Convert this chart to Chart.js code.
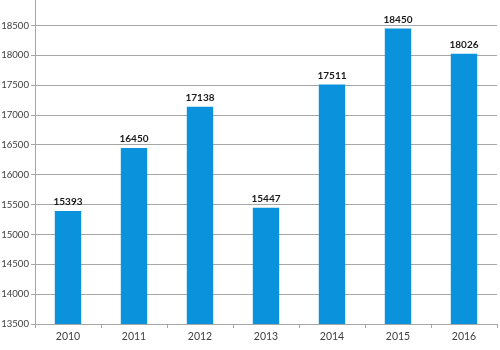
<!DOCTYPE html>
<html>
<head>
<meta charset="utf-8">
<script src="https://cdn.jsdelivr.net/npm/chart.js@4/dist/chart.umd.min.js"></script>
<style>
  html, body { margin:0; padding:0; background:#fff; }
  #wrap { width:500px; height:350px; }
</style>
</head>
<body>
<div id="wrap"><canvas id="c" width="500" height="350"></canvas></div>
<script>
// ================= DATA =================
const years  = ["2010","2011","2012","2013","2014","2015","2016"];
const values = [15393, 16450, 17138, 15447, 17511, 18450, 18026];
const yTicks = [13500, 14000, 14500, 15000, 15500, 16000, 16500, 17000, 17500, 18000, 18500];

const FONT = "Lato, 'Open Sans', sans-serif";

// value labels over the bars
const barLabels = {
  id: "barLabels",
  afterDatasetsDraw(chart){
    const ctx = chart.ctx;
    const meta = chart.getDatasetMeta(0);
    ctx.save();
    ctx.font = "bold 10px " + FONT;
    ctx.fillStyle = "#1a1a1a";
    ctx.textAlign = "center";
    ctx.textBaseline = "bottom";
    meta.data.forEach((bar, i) => {
      ctx.fillText(String(values[i]), bar.x, bar.y - 4);
    });
    ctx.restore();
  }
};

new Chart(document.getElementById("c"), {
  type: "bar",
  data: {
    labels: years,
    datasets: [{
      data: values,
      backgroundColor: "#0a92dc",
      borderWidth: 0,
      categoryPercentage: 1,
      barPercentage: 0.4
    }]
  },
  options: {
    responsive: false,
    animation: false,
    layout: { padding: { top: 0, right: 3, left: 0, bottom: 0 } },
    plugins: { legend: { display: false }, tooltip: { enabled: false } },
    scales: {
      x: {
        grid: { offset: true, drawOnChartArea: false, tickLength: 4, color: "#a6a6a6" },
        border: { color: "#a6a6a6" },
        ticks: { color: "#404040", font: { family: FONT, size: 10.5 }, padding: 2, maxRotation: 0 },
        afterFit: s => { s.height = 26; s.paddingLeft = 0; s.paddingRight = 0; }
      },
      y: {
        min: 13500,
        max: 18927,
        afterBuildTicks: s => { s.ticks = yTicks.map(v => ({ value: v })); },
        grid: { color: "#a6a6a6", tickLength: 4 },
        border: { color: "#a6a6a6" },
        ticks: { color: "#404040", font: { family: FONT, size: 9.6 }, padding: 2, callback: v => String(v) },
        afterFit: s => { s.width = 35; s.paddingTop = 0; s.paddingBottom = 0; }
      }
    }
  },
  plugins: [barLabels]
});
</script>
</body>
</html>
